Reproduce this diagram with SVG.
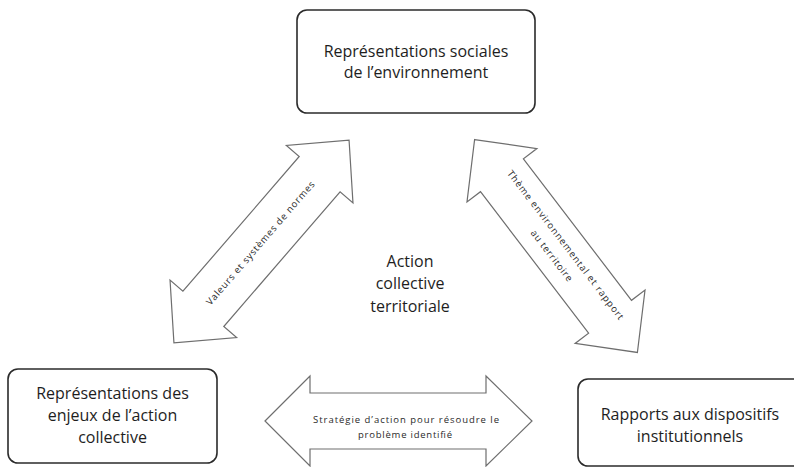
<svg xmlns="http://www.w3.org/2000/svg" width="794" height="467" viewBox="0 0 794 467">
<style>
.box{fill:#fff;stroke:#2b2b2b;stroke-width:1.6}
.arr{fill:#fff;stroke:#6e6e6e;stroke-width:1.2;stroke-linejoin:miter}
.t{font-family:"Open Sans","Liberation Sans",sans-serif;font-size:16px;fill:#1e1e1e;text-anchor:middle}
.s{font-family:"Open Sans","Liberation Sans",sans-serif;font-size:9.5px;fill:#2a2a2a;text-anchor:middle}
</style>
<defs>
<path id="darr" d="M-134,0 L-89,-44 L-89,-27 L89,-27 L89,-44 L134,0 L89,44 L89,27 L-89,27 L-89,44 Z"/>
</defs>
<rect width="794" height="467" fill="#fff"/>
<g id="connectors">
<g id="arrow-left" transform="translate(261.5,241.5) rotate(-49.2)">
<use href="#darr" class="arr"/>
<text class="s" x="-2" y="3.5" textLength="160">Valeurs et systèmes de normes</text>
</g>
<g id="arrow-right" transform="translate(556,246) rotate(52.6)">
<use href="#darr" class="arr"/>
<text class="s" x="5" y="-5" textLength="185">Thème environnemental et rapport</text>
<text class="s" x="5" y="12.5" textLength="62">au territoire</text>
</g>
<g id="arrow-bottom">
<path class="arr" d="M265,421 L310,376 L310,393 L486,393 L486,376 L532,421 L486,466 L486,449 L310,449 L310,466 Z"/>
<text class="s" x="406" y="423" textLength="186">Stratégie d’action pour résoudre le</text>
<text class="s" x="405" y="438" textLength="94">problème identifié</text>
</g>
</g>
<g id="node-top">
<rect class="box" x="297" y="10" width="238" height="103" rx="10"/>
<text class="t" x="416" y="57">Représentations sociales</text>
<text class="t" x="416" y="78">de l’environnement</text>
</g>
<g id="node-left">
<rect class="box" x="8" y="369" width="209" height="94" rx="10"/>
<text class="t" x="112.5" y="399">Représentations des</text>
<text class="t" x="112.5" y="421">enjeux de l’action</text>
<text class="t" x="112.5" y="443">collective</text>
</g>
<g id="node-right">
<rect class="box" x="578" y="379" width="230" height="87" rx="10"/>
<text class="t" x="690" y="420">Rapports aux dispositifs</text>
<text class="t" x="690" y="442">institutionnels</text>
</g>
<g id="node-center">
<text class="t" x="410" y="267">Action</text>
<text class="t" x="410" y="289">collective</text>
<text class="t" x="410" y="312">territoriale</text>
</g>
</svg>
